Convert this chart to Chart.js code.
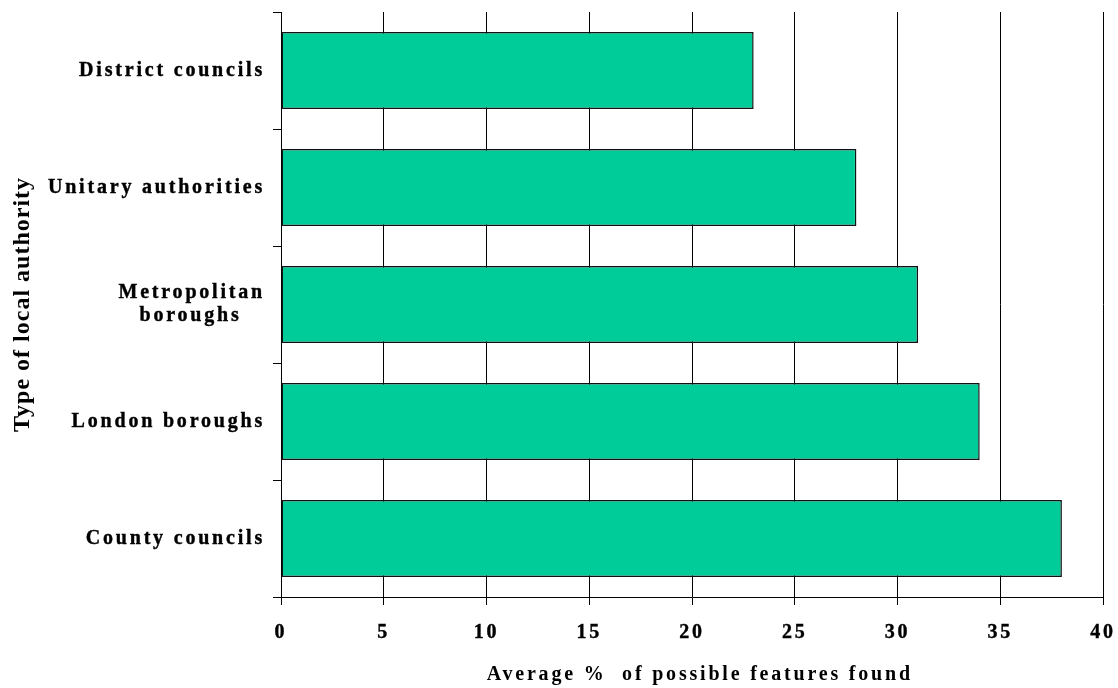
<!DOCTYPE html>
<html>
<head>
<meta charset="utf-8">
<script src="https://cdn.jsdelivr.net/npm/chart.js@4.4.1/dist/chart.umd.min.js"></script>
<style>
  html, body { margin: 0; padding: 0; background: #ffffff; }
  #wrap { width: 1118px; height: 688px; position: relative; }
</style>
</head>
<body>
<div id="wrap"><canvas id="chart"></canvas></div>
<script>
// Local authority types, top to bottom
const categories = [
  'District councils',
  'Unitary authorities',
  ['Metropolitan', 'boroughs\u00a0\u00a0\u00a0'],
  'London boroughs',
  'County councils'
];
// Average % of possible features found
const averagePercent = [23, 28, 31, 34, 38];
// Value axis ticks
const xTickValues = [0, 5, 10, 15, 20, 25, 30, 35, 40];

const SERIF = "'Liberation Serif', 'Times New Roman', serif";

// Spaced lettering for labels; the rotated axis title is drawn tighter.
const letterSpacingPlugin = {
  id: 'letterSpacing',
  beforeDraw(chart) { chart.ctx.letterSpacing = '2.8px'; },
  afterDatasetsDraw(chart) { chart.ctx.letterSpacing = '1px'; },
  afterDraw(chart) { chart.ctx.letterSpacing = '0px'; }
};

new Chart(document.getElementById('chart'), {
  type: 'bar',
  data: {
    labels: categories,
    datasets: [{
      data: averagePercent,
      backgroundColor: '#00CC99',
      borderColor: '#111111',
      borderWidth: 1.5,
      borderSkipped: false,
      barPercentage: 0.66,
      categoryPercentage: 1.0
    }]
  },
  options: {
    indexAxis: 'y',
    responsive: true,
    maintainAspectRatio: false,
    animation: false,
    layout: { padding: { top: 12, right: 15, left: 0, bottom: 0 } },
    plugins: {
      legend: { display: false },
      tooltip: { enabled: false }
    },
    scales: {
      x: {
        type: 'linear',
        min: xTickValues[0],
        max: xTickValues[xTickValues.length - 1],
        afterBuildTicks(scale) {
          scale.ticks = xTickValues.map(v => ({ value: v }));
        },
        afterFit(scale) {
          scale.height = 91;
          scale.paddingLeft = 0;
          scale.paddingRight = 0;
        },
        grid: {
          color: '#000000',
          lineWidth: 1,
          drawOnChartArea: true,
          drawTicks: true,
          tickLength: 8,
          tickColor: '#000000'
        },
        border: { display: true, color: '#000000', width: 1 },
        ticks: {
          color: '#000000',
          padding: 16,
          textStrokeColor: '#000000',
          textStrokeWidth: 0.4,
          font: { family: SERIF, size: 20, weight: 'bold' }
        },
        title: {
          display: true,
          text: '\u00a0\u00a0Average %  of possible features found',
          color: '#000000',
          padding: { top: 0, bottom: 1 },
          font: { family: SERIF, size: 20, weight: 'bold', lineHeight: 1.2 }
        }
      },
      y: {
        type: 'category',
        afterFit(scale) {
          scale.width = 281;
          scale.paddingTop = 0;
          scale.paddingBottom = 0;
        },
        grid: {
          offset: true,
          drawOnChartArea: false,
          drawTicks: true,
          tickLength: 8,
          tickColor: '#000000',
          color: '#000000',
          z: 1
        },
        border: { display: true, color: '#000000', width: 1, z: 1 },
        ticks: {
          color: '#000000',
          padding: 8,
          autoSkip: false,
          textStrokeColor: '#000000',
          textStrokeWidth: 0.4,
          font: { family: SERIF, size: 20, weight: 'bold', lineHeight: 1.15 }
        },
        title: {
          display: true,
          text: 'Type of local authority',
          color: '#000000',
          padding: { top: 8, bottom: 0 },
          font: { family: SERIF, size: 24, weight: 'bold', lineHeight: 1.2 }
        }
      }
    }
  },
  plugins: [letterSpacingPlugin]
});
</script>
</body>
</html>
